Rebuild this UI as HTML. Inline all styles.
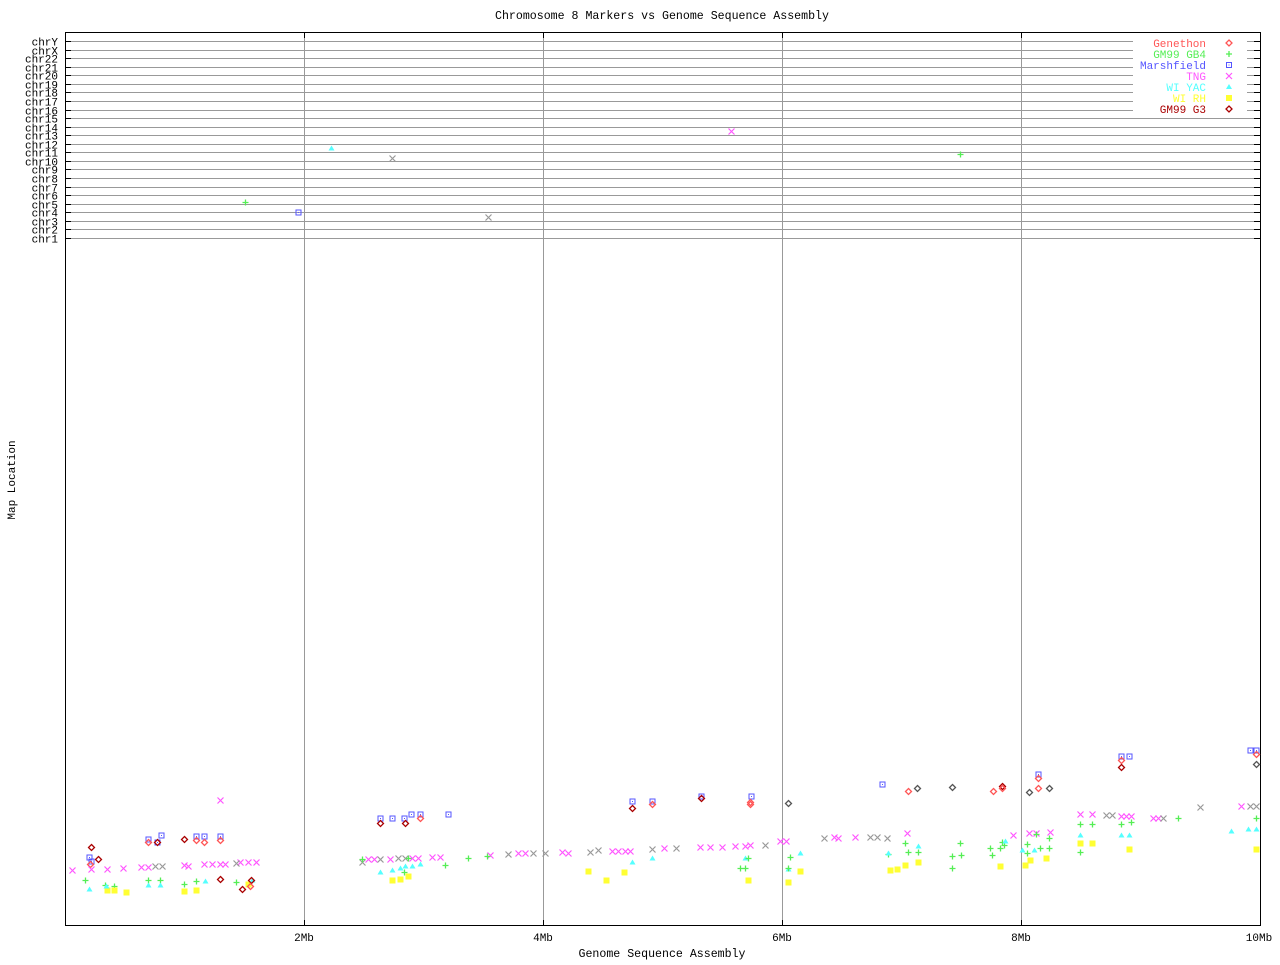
<!DOCTYPE html>
<html><head><meta charset="utf-8"><style>
body{margin:0;background:#fff}
svg text{font-family:"Liberation Mono","DejaVu Sans Mono",monospace;font-size:11px}
</style></head><body>
<svg id="s" width="1280" height="960" xmlns="http://www.w3.org/2000/svg">
<rect width="1280" height="960" fill="#fff"/>
<text x="662" y="19" text-anchor="middle" style="font-size:11.6px">Chromosome 8 Markers vs Genome Sequence Assembly</text>
<text x="662" y="957" text-anchor="middle" style="font-size:11.6px">Genome Sequence Assembly</text>
<text transform="translate(15,480) rotate(-90)" text-anchor="middle">Map Location</text>
<g id="grid"></g>
<rect x="65.5" y="32.5" width="1195" height="893" fill="none" stroke="#000"/>
<text x="304" y="941" text-anchor="middle">2Mb</text>
<text x="543" y="941" text-anchor="middle">4Mb</text>
<text x="782" y="941" text-anchor="middle">6Mb</text>
<text x="1021" y="941" text-anchor="middle">8Mb</text>
<text x="1259" y="941" text-anchor="middle">10Mb</text>
<g id="leg"></g>
<g id="pts"></g>
</svg>
<script>
var NS="http://www.w3.org/2000/svg";
function el(p,t,a,txt){var e=document.createElementNS(NS,t);for(var k in a)e.setAttribute(k,a[k]);if(txt)e.textContent=txt;p.appendChild(e);return e;}
var g=document.getElementById('grid');
var names=["chrY","chrX","chr22","chr21","chr20","chr19","chr18","chr17","chr16","chr15","chr14","chr13","chr12","chr11","chr10","chr9","chr8","chr7","chr6","chr5","chr4","chr3","chr2","chr1"];
for(var i=0;i<24;i++){var y=Math.round(41+i*197/23)+0.5;
el(g,'line',{x1:66,x2:1260,y1:y,y2:y,stroke:'#999'});
el(g,'line',{x1:65,x2:71,y1:y,y2:y,stroke:'#000'});
el(g,'line',{x1:1254,x2:1260,y1:y,y2:y,stroke:'#000'});
el(g,'text',{x:58,y:y+4,'text-anchor':'end'},names[i]);}
[304,543,782,1021].forEach(function(x){el(g,'line',{x1:x+.5,x2:x+.5,y1:33,y2:926,stroke:'#999'});el(g,'line',{x1:x+.5,x2:x+.5,y1:32,y2:38,stroke:'#000'});el(g,'line',{x1:x+.5,x2:x+.5,y1:920,y2:926,stroke:'#000'});});
var C={d:'#ff5555',p:'#55ee55',s:'#5555ff',x:'#ff55ff',t:'#55ffff',r:'#ffff33',g:'#aa0000',X:'#999999',G:'#555555'};
function mk(p,t,x,y){var c=C[t];
if(t=='d'||t=='g'||t=='G')el(p,'path',{d:'M'+x+' '+(y-3)+'L'+(x+3)+' '+y+'L'+x+' '+(y+3)+'L'+(x-3)+' '+y+'Z',fill:'none',stroke:c,'stroke-width':1.3});
else if(t=='p')el(p,'path',{d:'M'+(x-3)+' '+y+'H'+(x+3)+'M'+x+' '+(y-3)+'V'+(y+3),stroke:c,'stroke-width':1.3});
else if(t=='s'){el(p,'rect',{x:x-2.5,y:y-2.5,width:5,height:5,fill:'none',stroke:c});el(p,'rect',{x:x-.5,y:y-.5,width:1,height:1,fill:c});}
else if(t=='x'||t=='X')el(p,'path',{d:'M'+(x-3)+' '+(y-3)+'L'+(x+3)+' '+(y+3)+'M'+(x+3)+' '+(y-3)+'L'+(x-3)+' '+(y+3),stroke:c,'stroke-width':1.2});
else if(t=='t')el(p,'path',{d:'M'+x+' '+(y-3)+'L'+(x+3)+' '+(y+2)+'L'+(x-3)+' '+(y+2)+'Z',fill:c});
else if(t=='r')el(p,'rect',{x:x-3,y:y-3,width:6,height:6,fill:c});}
var L=document.getElementById('leg');
el(L,'rect',{x:1133,y:35,width:114,height:79,fill:'#fff'});
[["Genethon",'d'],["GM99 GB4",'p'],["Marshfield",'s'],["TNG",'x'],["WI YAC",'t'],["WI RH",'r'],["GM99 G3",'g']].forEach(function(a,i){var y=43+i*11;
el(L,'text',{x:1206,y:y+4,'text-anchor':'end',fill:C[a[1]]},a[0]);mk(L,a[1],1229,y);});
var P="p 245 202 s 298 212 t 331 148 X 392 158 X 488 217 x 731 131 p 960 154 x 72 870 s 89 857 s 91 861 d 90 864 g 91 847 x 91 869 g 98 859 p 85 880 t 89 889 p 105 885 r 107 890 t 106 886 p 114 886 r 114 890 r 126 892 x 107 869 x 123 868 x 141 867 x 148 867 X 155 866 X 162 866 s 148 839 d 148 842 s 157 842 s 161 835 g 157 842 p 148 880 t 148 885 p 160 880 t 160 885 x 184 865 g 184 839 s 196 836 s 204 836 d 196 840 d 204 842 x 188 866 p 184 884 r 184 891 p 196 881 r 196 890 t 205 881 s 220 836 d 220 840 x 220 800 x 204 864 x 212 864 x 220 864 x 225 864 g 220 879 p 236 882 r 248 884 t 252 880 g 242 889 g 251 880 x 240 862 x 248 862 x 256 862 X 236 863 d 250 886 s 380 818 s 392 818 s 404 818 s 411 814 s 420 814 s 448 814 g 380 823 g 405 823 d 420 818 X 362 862 x 368 859 x 374 859 X 380 859 x 390 859 X 398 858 X 405 858 x 412 858 x 418 858 x 432 857 x 440 857 p 362 859 p 408 858 p 445 865 p 468 858 t 380 872 t 392 870 t 400 868 t 405 866 t 412 866 t 420 864 r 392 880 r 400 879 r 408 876 p 404 872 x 490 855 p 487 856 X 508 854 x 518 853 x 525 853 X 533 853 X 545 853 x 562 852 x 568 853 X 590 852 X 598 850 x 612 851 x 618 851 x 625 851 x 630 851 X 652 849 x 664 848 X 676 848 x 700 847 x 710 847 x 722 847 x 735 846 x 745 846 x 750 845 X 765 845 x 780 841 x 786 841 X 824 838 x 834 837 x 838 838 x 855 837 X 870 837 X 877 837 X 887 838 x 907 833 r 588 871 r 606 880 r 624 872 t 632 862 t 652 858 t 745 858 p 745 868 p 748 858 p 740 868 r 748 880 r 788 882 r 800 871 t 800 853 p 790 857 t 788 869 p 788 868 s 632 801 s 652 801 g 632 808 d 652 804 s 701 796 g 701 798 s 751 796 d 750 804 d 750 802 G 788 803 s 882 784 d 908 791 G 917 788 G 952 787 d 993 791 g 1002 786 d 1002 788 G 1029 792 s 1038 774 d 1038 778 d 1038 788 G 1049 788 s 1121 756 s 1129 756 d 1121 760 g 1121 767 s 1250 750 s 1256 750 d 1256 754 G 1256 764 X 1200 807 p 888 854 t 888 853 p 905 843 p 908 852 r 890 870 r 897 869 r 905 865 p 918 852 t 918 846 p 952 856 p 952 868 p 960 843 p 961 855 r 918 862 x 1029 833 x 1036 833 x 1050 832 x 1080 814 x 1092 814 X 1106 815 X 1112 815 x 1121 816 x 1126 816 x 1131 816 x 1153 818 x 1158 818 X 1163 818 x 1241 806 X 1250 806 X 1256 806 p 1178 818 p 1256 818 t 1231 831 t 1248 829 t 1256 829 r 1256 849 x 1013 835 p 990 848 p 1000 848 p 1004 845 p 992 855 p 1002 842 t 1022 850 p 1027 844 p 1027 853 p 1036 834 p 1040 848 p 1049 838 p 1049 848 r 1000 866 r 1025 865 r 1030 860 r 1046 858 t 1034 850 p 1080 852 p 1080 824 p 1092 824 t 1080 835 r 1080 843 r 1092 843 p 1121 824 p 1131 822 t 1121 835 t 1129 835 r 1129 849 t 1005 841".split(' ');
var pg=document.getElementById('pts');
for(var i=0;i+2<P.length;i+=3)mk(pg,P[i],+P[i+1]+.5,+P[i+2]+.5);
</script>
</body></html>
